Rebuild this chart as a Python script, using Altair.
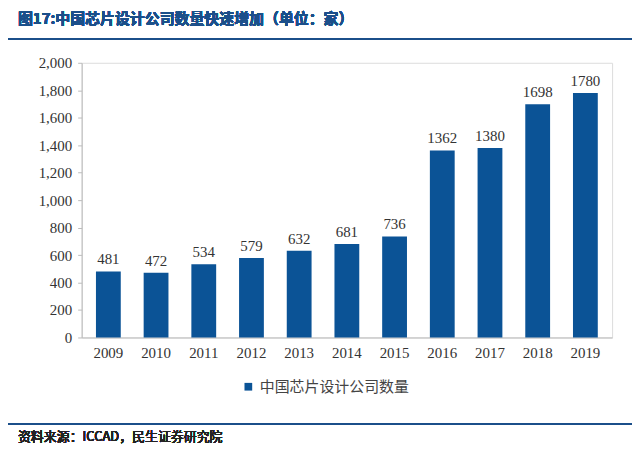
import altair as alt
import pandas as pd

years = ["2009", "2010", "2011", "2012", "2013", "2014", "2015", "2016", "2017", "2018", "2019"]
counts = [481, 472, 534, 579, 632, 681, 736, 1362, 1380, 1698, 1780]
series = "中国芯片设计公司数量"

df = pd.DataFrame({"year": years, "count": counts, "series": series})
blue = "#0b5396"
serif = "Liberation Serif"
cjk = "Noto Sans CJK SC"

x_enc = alt.X("year:N", title=None, scale=alt.Scale(paddingInner=0.48, paddingOuter=0.3),
              axis=alt.Axis(labelAngle=0, labelFont=serif, labelFontSize=15, labelColor="#333",
                            domainColor="#bbb", ticks=False, labelPadding=8))
y_enc = alt.Y("count:Q", title=None, scale=alt.Scale(domain=[0, 2000], nice=False),
              axis=alt.Axis(values=list(range(0, 2001, 200)), format=",.0f", labelFont=serif,
                            labelFontSize=15, labelColor="#333", grid=False, domainColor="#bbb",
                            tickColor="#bbb", tickSize=4, labelPadding=6, labelOverlap=False))

base = alt.Chart(df)

bars = base.mark_bar(color=blue).encode(
    x=x_enc,
    y=y_enc,
    color=alt.Color("series:N", scale=alt.Scale(range=[blue]),
                    legend=alt.Legend(title=None, orient="none", legendX=160, legendY=318,
                                      symbolType="square", symbolSize=60,
                                      labelFont=cjk, labelFontSize=15, labelColor="#444")),
)

labels = base.mark_text(dy=-12, font=serif, fontSize=15, color="#333").encode(
    x=x_enc, y=y_enc, text="count:Q"
)

title = base.mark_text(align="left", font=cjk, fontSize=15, fontWeight="bold", color="#1b4f8a").encode(
    x=alt.value(-64), y=alt.value(-44), text=alt.value("图17:中国芯片设计公司数量快速增加（单位：家）")
)
source = base.mark_text(align="left", font=cjk, fontSize=13, color="#222").encode(
    x=alt.value(-64), y=alt.value(376), text=alt.value("资料来源：ICCAD，民生证券研究院")
)
top_rule = base.mark_rule(color="#1b4f8a", strokeWidth=2).encode(
    x=alt.value(-74), x2=alt.value(560), y=alt.value(-24)
)
bottom_rule = base.mark_rule(color="#1b4f8a", strokeWidth=2).encode(
    x=alt.value(-74), x2=alt.value(560), y=alt.value(363)
)

chart = (bars + labels + title + source + top_rule + bottom_rule).properties(
    width=533, height=276, autosize="none",
    padding={"left": 74, "top": 54, "right": 20, "bottom": 109},
).configure_view(stroke=None).configure(background="white")

chart.save("out.html", embed_options={"renderer": "svg", "actions": False})
